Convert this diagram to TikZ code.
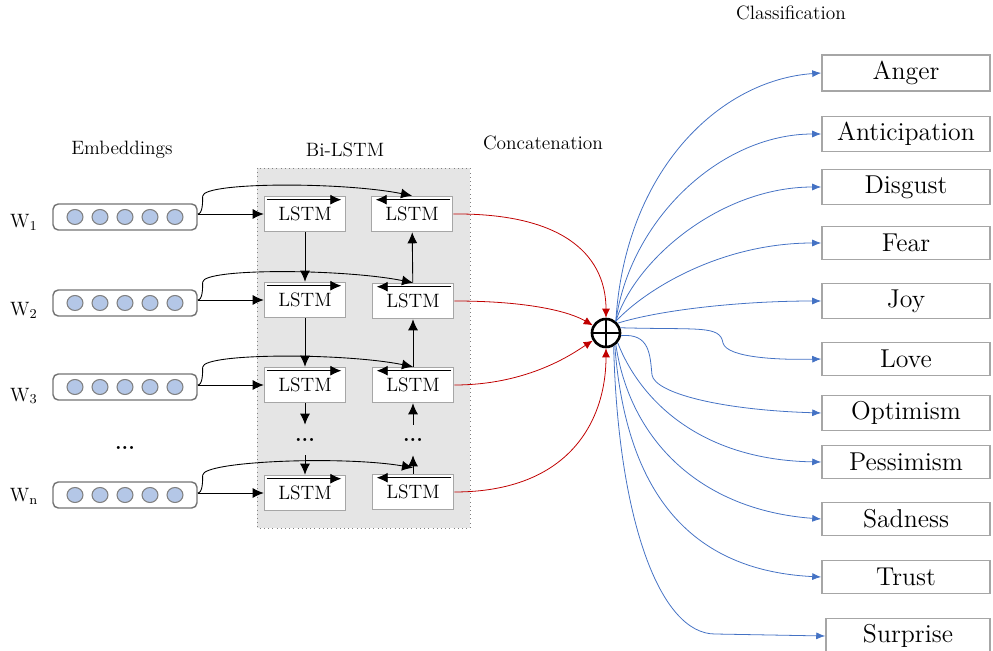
\documentclass[tikz,border=0pt]{standalone}
\usepackage{amsmath,amssymb}
\usepackage{xcolor}
\usepackage{tikz}
\usetikzlibrary{shapes, arrows.meta, positioning, calc}

\definecolor{redline}{RGB}{192,0,0}
\definecolor{blueline}{RGB}{68,114,196}
\definecolor{dotfill}{RGB}{180,199,231}

\begin{document}
\begin{tikzpicture}[
    x=0.02cm,
    y=-0.02cm,
    heading/.style={
        font=\fontsize{11}{13}\selectfont
    },
    embbox/.style={
        rectangle,
        draw=gray!90!black,
        rounded corners=3pt,
        line width=0.8pt,
        minimum width=2.88cm,
        minimum height=0.52cm
    },
    embdot/.style={
        ellipse,
        draw=gray,
        fill=dotfill,
        line width=0.6pt,
        minimum width=0.32cm,
        minimum height=0.3cm,
        inner sep=0pt
    },
    lstm/.style={
        rectangle,
        draw=gray!70,
        fill=white,
        line width=0.9pt,
        minimum width=1.62cm,
        minimum height=0.7cm,
        font=\fontsize{11}{13}\selectfont
    },
    classbox/.style={
        rectangle,
        draw=gray!70,
        fill=white,
        line width=0.9pt,
        minimum width=3.36cm,
        minimum height=0.66cm,
        font=\fontsize{14.7}{17}\selectfont
    },
    dotsnode/.style={
        minimum height=0.6cm,
        inner sep=0pt,
        font=\fontsize{12}{14}\selectfont\bfseries
    },
    line/.style={
        draw,
        -{Latex[length=2.2mm,width=2mm]},
        line width=0.5pt
    },
    redarrow/.style={
        draw=redline,
        -{Latex[length=1.8mm,width=1.6mm]},
        line width=0.45pt
    },
    bluearrow/.style={
        draw=blueline,
        -{Latex[length=1.8mm,width=1.4mm]},
        line width=0.45pt
    }
]
\useasboundingbox (0,0) rectangle (993,651);

% Bi-LSTM background
\draw [gray, dotted, fill=gray!20] (257,168) rectangle (470,528);

% Headings
\node [heading] (hemb) at (122,150) {Embeddings};
\node [heading] (hbi) at (345,150) {Bi-LSTM};
\node [heading] (hcat) at (543,143) {Concatenation};
\node [heading] (hcls) at (791,13) {Classification};

% Words and embeddings
\node [heading] (w1) at (24,222) {W\textsubscript{1}};
\node [heading] (w2) at (24,310) {W\textsubscript{2}};
\node [heading] (w3) at (24,396) {W\textsubscript{3}};
\node [heading] (wn) at (24,496) {W\textsubscript{n}};
\node [embbox] (emb1) at (125,217) {};
\node [embbox] (emb2) at (125,303) {};
\node [embbox] (emb3) at (125,387) {};
\node [embbox] (embn) at (125,495) {};
\node [dotsnode] (edots) at (125,448) {...};
\foreach \e in {emb1,emb2,emb3,embn}
    \foreach \dx [count=\i] in {-50,-25,0,25,50}
        \node [embdot] (\e-d\i) at ($(\e)+(\dx,0)$) {};

% LSTM cells
\node [lstm] (fw1) at (305,214) {LSTM};
\node [lstm] (fw2) at (305,300) {LSTM};
\node [lstm] (fw3) at (305,385) {LSTM};
\node [dotsnode] (fdots) at (305,440) {...};
\node [lstm] (fwn) at (305,493) {LSTM};
\node [lstm] (bw1) at (412,214) {LSTM};
\node [lstm] (bw2) at (413,301) {LSTM};
\node [lstm] (bw3) at (413,385) {LSTM};
\node [dotsnode] (bdots) at (413,440) {...};
\node [lstm] (bwn) at (413,492) {LSTM};

% Concatenation
\node [circle, draw, line width=1.5pt, minimum size=0.56cm, inner sep=0pt] (cat) at (606,333) {};
\draw [line width=1.5pt] (cat.north) -- (cat.south) (cat.west) -- (cat.east);

% Classes
\node [classbox] (anger) at (906,73) {Anger};
\node [classbox] (anticipation) at (906,134) {Anticipation};
\node [classbox] (disgust) at (906,187) {Disgust};
\node [classbox] (fear) at (906,243) {Fear};
\node [classbox] (joy) at (906,301) {Joy};
\node [classbox] (love) at (906,359) {Love};
\node [classbox] (optimism) at (906,413) {Optimism};
\node [classbox] (pessimism) at (906,462) {Pessimism};
\node [classbox] (sadness) at (906,519) {Sadness};
\node [classbox] (trust) at (906,577) {Trust};
\node [classbox, minimum width=3.28cm] (surprise) at (908,636) {Surprise};

% Direction arrows in the cells
\foreach \f in {fw1,fw2,fw3,fwn}
    \path [line] ($(\f.north west)+(3,4)$) -- ($(\f.north east)+(-5,4)$);
\foreach \b in {bw1,bw2,bw3,bwn}
    \path [line] ($(\b.north east)+(-3,4)$) -- ($(\b.north west)+(5,4)$);

% Paths
\path [line] (fw1.west -| emb1.east) -- (fw1.west);
\path [line] (fw2.west -| emb2.east) -- (fw2.west);
\path [line] (fw3.west -| emb3.east) -- (fw3.west);
\path [line] (fwn.west -| embn.east) -- (fwn.west);
\path [line] (fw1.west -| emb1.east) .. controls +(5,0) and +(0,6) .. ++(5,-18)
    .. controls +(1,-14) and +(-70,-14) .. (bw1.north);
\path [line] (fw2.west -| emb2.east) .. controls +(5,0) and +(0,6) .. ++(5,-18)
    .. controls +(1,-14) and +(-70,-14) .. (bw2.north);
\path [line] (fw3.west -| emb3.east) .. controls +(5,0) and +(0,6) .. ++(5,-18)
    .. controls +(1,-14) and +(-70,-14) .. (bw3.north);
\path [line] (fwn.west -| embn.east) .. controls +(5,0) and +(0,6) .. ++(5,-18)
    .. controls +(1,-14) and +(-70,-12) .. ($(bwn.north)+(0,-6)$);
\path [line] (fw1) -- (fw2);
\path [line] (fw2) -- (fw3);
\path [line] (fw3) -- (fdots);
\path [line] (fdots) -- (fwn);
\path [line] (bwn) -- (bdots);
\path [line] (bdots) -- (bw3);
\path [line] (bw3) -- (bw2);
\path [line] (bw2) -- (bw1);

% Concatenation paths
\path [redarrow] (bw1.east) .. controls (570,213) and (606,260) .. (cat.north);
\path [redarrow] (bw2.east) .. controls (530,301) and (570,312) .. (cat.150);
\path [redarrow] (bw3.east) .. controls (530,385) and (575,352) .. (cat.210);
\path [redarrow] (bwn.east) .. controls (570,492) and (606,420) .. (cat.south);

% Classification paths
\path [bluearrow] (cat.50) .. controls (625,170) and (720,80) .. (anger.west);
\path [bluearrow] (cat.50) .. controls (630,220) and (720,134) .. (anticipation.west);
\path [bluearrow] (cat.50) .. controls (635,260) and (720,187) .. (disgust.west);
\path [bluearrow] (cat.50) .. controls (645,290) and (720,243) .. (fear.west);
\path [bluearrow] (cat.40) .. controls (660,310) and (740,301) .. (joy.west);
\path [bluearrow] (cat.20) .. controls (700,330) and (720,325) .. (723,343)
    .. controls (727,358) and (780,360) .. (love.west);
\path [bluearrow] (cat.-10) .. controls (650,333) and (650,355) .. (652,375)
    .. controls (655,393) and (720,410) .. (optimism.west);
\path [bluearrow] (cat.-40) .. controls (640,400) and (700,460) .. (pessimism.west);
\path [bluearrow] (cat.-50) .. controls (630,440) and (700,510) .. (sadness.west);
\path [bluearrow] (cat.-55) .. controls (625,480) and (680,570) .. (trust.west);
\path [bluearrow] (cat.-60) .. controls (618,520) and (660,634) .. (715,634) -- (surprise.west);

\end{tikzpicture}
\end{document}
